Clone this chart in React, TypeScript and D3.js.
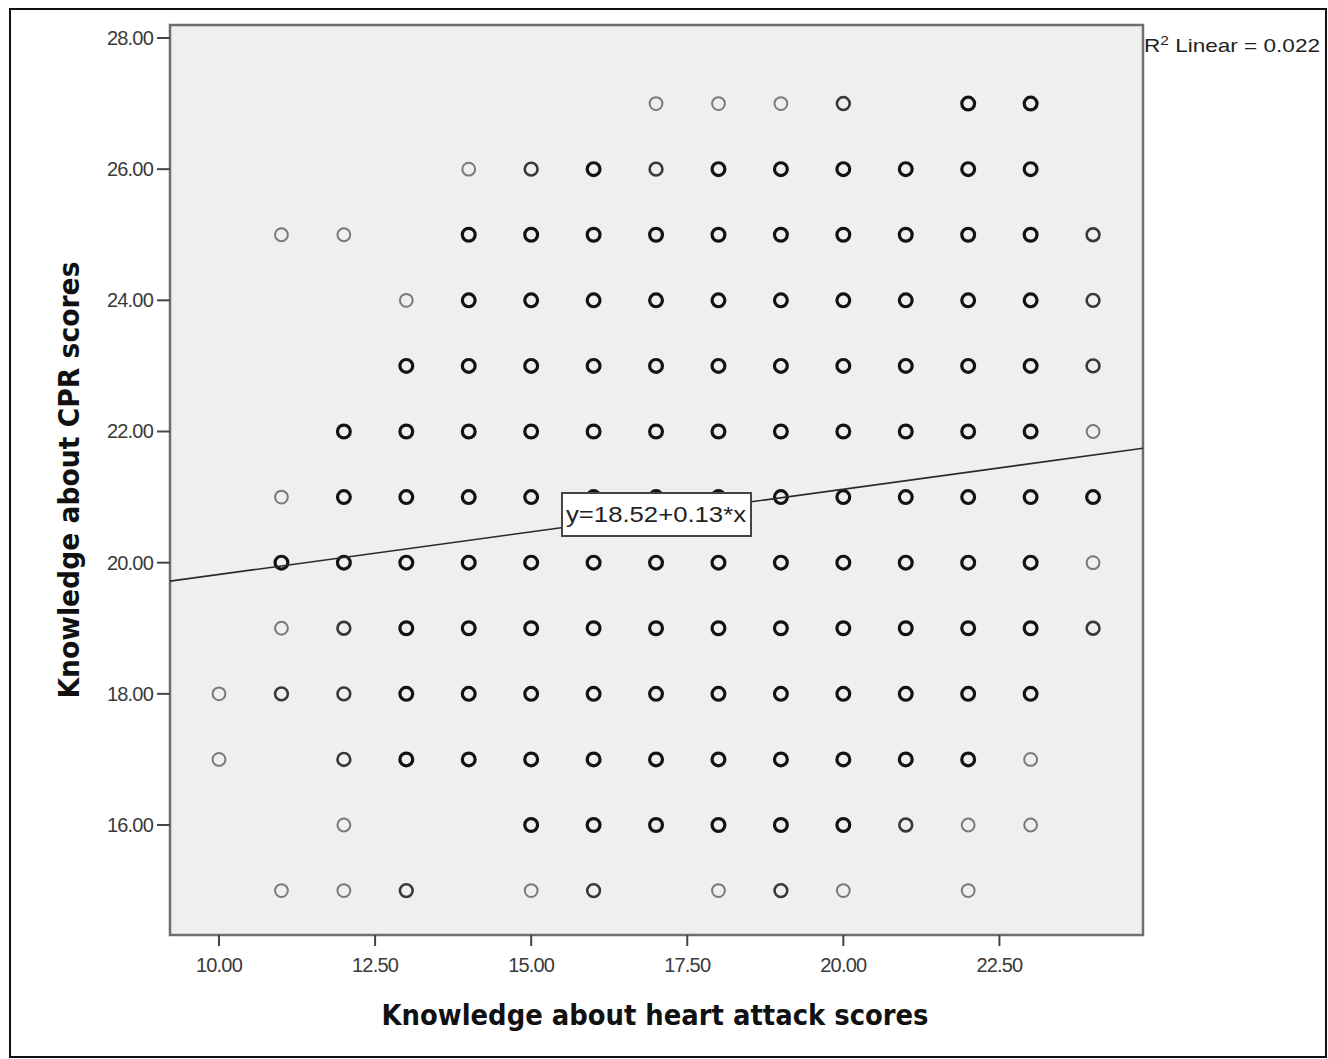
import * as d3 from 'd3';

// heart attack score, CPR score, overlap level (1 light, 2 medium, 3 dark)
const points: [number, number, number][] = [
  [17, 27, 1], [18, 27, 1], [19, 27, 1], [20, 27, 2], [22, 27, 3], [23, 27, 3],
  [14, 26, 1], [15, 26, 2], [16, 26, 3], [17, 26, 2], [18, 26, 3], [19, 26, 3], [20, 26, 3], [21, 26, 3], [22, 26, 3], [23, 26, 3],
  [11, 25, 1], [12, 25, 1], [14, 25, 3], [15, 25, 3], [16, 25, 3], [17, 25, 3], [18, 25, 3], [19, 25, 3], [20, 25, 3], [21, 25, 3], [22, 25, 3], [23, 25, 3], [24, 25, 2],
  [13, 24, 1], [14, 24, 3], [15, 24, 3], [16, 24, 3], [17, 24, 3], [18, 24, 3], [19, 24, 3], [20, 24, 3], [21, 24, 3], [22, 24, 3], [23, 24, 3], [24, 24, 2],
  [13, 23, 3], [14, 23, 3], [15, 23, 3], [16, 23, 3], [17, 23, 3], [18, 23, 3], [19, 23, 3], [20, 23, 3], [21, 23, 3], [22, 23, 3], [23, 23, 3], [24, 23, 2],
  [12, 22, 3], [13, 22, 3], [14, 22, 3], [15, 22, 3], [16, 22, 3], [17, 22, 3], [18, 22, 3], [19, 22, 3], [20, 22, 3], [21, 22, 3], [22, 22, 3], [23, 22, 3], [24, 22, 1],
  [11, 21, 1], [12, 21, 3], [13, 21, 3], [14, 21, 3], [15, 21, 3], [16, 21, 3], [17, 21, 3], [18, 21, 3], [19, 21, 3], [20, 21, 3], [21, 21, 3], [22, 21, 3], [23, 21, 3], [24, 21, 3],
  [11, 20, 3], [12, 20, 3], [13, 20, 3], [14, 20, 3], [15, 20, 3], [16, 20, 3], [17, 20, 3], [18, 20, 3], [19, 20, 3], [20, 20, 3], [21, 20, 3], [22, 20, 3], [23, 20, 3], [24, 20, 1],
  [11, 19, 1], [12, 19, 2], [13, 19, 3], [14, 19, 3], [15, 19, 3], [16, 19, 3], [17, 19, 3], [18, 19, 3], [19, 19, 3], [20, 19, 3], [21, 19, 3], [22, 19, 3], [23, 19, 3], [24, 19, 2],
  [10, 18, 1], [11, 18, 2], [12, 18, 2], [13, 18, 3], [14, 18, 3], [15, 18, 3], [16, 18, 3], [17, 18, 3], [18, 18, 3], [19, 18, 3], [20, 18, 3], [21, 18, 3], [22, 18, 3], [23, 18, 3],
  [10, 17, 1], [12, 17, 2], [13, 17, 3], [14, 17, 3], [15, 17, 3], [16, 17, 3], [17, 17, 3], [18, 17, 3], [19, 17, 3], [20, 17, 3], [21, 17, 3], [22, 17, 3], [23, 17, 1],
  [12, 16, 1], [15, 16, 3], [16, 16, 3], [17, 16, 3], [18, 16, 3], [19, 16, 3], [20, 16, 3], [21, 16, 2], [22, 16, 1], [23, 16, 1],
  [11, 15, 1], [12, 15, 1], [13, 15, 2], [15, 15, 1], [16, 15, 2], [18, 15, 1], [19, 15, 2], [20, 15, 1], [22, 15, 1],
];

const xTicks = [10, 12.5, 15, 17.5, 20, 22.5];
const yTicks = [16, 18, 20, 22, 24, 26, 28];
const intercept = 18.52;
const slope = 0.13;
const rSquared = '0.022';

const strokeFor = ['#000', '#7a7a7a', '#383838', '#121212'];
const widthFor = [0, 2, 2.6, 3.2];

export default function App() {
  const left = 170, right = 1143, top = 25, bottom = 935;
  const x = d3.scaleLinear().domain([9.215, 24.80]).range([left, right]);
  const y = d3.scaleLinear().domain([14.323, 28.198]).range([bottom, top]);

  const fitLine = d3.line<number>()
    .x(d => x(d))
    .y(d => y(intercept + slope * d));
  const ends = x.domain();

  const label = `y=${intercept.toFixed(2)}+${slope.toFixed(2)}*x`;

  return (
    <svg width={1328} height={1059} style={{ position: 'absolute', left: 0, top: 0, background: '#fff' }}
      fontFamily="'Liberation Sans', Arial, sans-serif">
      <rect x={10} y={9} width={1316} height={1048} fill="#fff" stroke="#111" strokeWidth={2} />

      <rect x={left} y={top} width={right - left} height={bottom - top} fill="#efefef" stroke="#6e6e6e" strokeWidth={2.5} />

      {/* y axis */}
      {yTicks.map(t => (
        <g key={'y' + t}>
          <line x1={left - 13} x2={left} y1={y(t)} y2={y(t)} stroke="#444" strokeWidth={2} />
          <text x={left - 17} y={y(t)} dy="0.35em" textAnchor="end" fontSize={20} fill="#3a3a3a"
            letterSpacing={-0.8}>{t.toFixed(2)}</text>
        </g>
      ))}

      {/* x axis */}
      {xTicks.map(t => (
        <g key={'x' + t}>
          <line x1={x(t)} x2={x(t)} y1={bottom} y2={bottom + 11} stroke="#444" strokeWidth={2} />
          <text x={x(t)} y={bottom + 37} textAnchor="middle" fontSize={20} fill="#3a3a3a"
            letterSpacing={-0.8}>{t.toFixed(2)}</text>
        </g>
      ))}

      <defs>
        <clipPath id="plot">
          <rect x={left} y={top} width={right - left} height={bottom - top} />
        </clipPath>
      </defs>

      <g clipPath="url(#plot)">
        {points.map(([px, py, n], i) => (
          <circle key={i} cx={x(px)} cy={y(py)} r={6.4} fill="none"
            stroke={strokeFor[n]} strokeWidth={widthFor[n]} />
        ))}
        <path d={fitLine(ends) ?? ''} fill="none" stroke="#2a2a2a" strokeWidth={1.6} />
      </g>

      <g>
        <rect x={562} y={493} width={189} height={43} fill="#fff" stroke="#444" strokeWidth={2} />
        <text x={656} y={522} textAnchor="middle" fontSize={22} fill="#222"
          textLength={180} lengthAdjust="spacingAndGlyphs">{label}</text>
      </g>

      <text x={1144} y={52} fontSize={19} fill="#222" textLength={176} lengthAdjust="spacingAndGlyphs">
        R<tspan dy={-7} fontSize={13}>2</tspan><tspan dy={7}> Linear = {rSquared}</tspan>
      </text>

      <text x={655} y={1025} textAnchor="middle" fontSize={28} fontWeight="bold" fill="#111"
        fontFamily="'DejaVu Sans', Verdana, sans-serif"
        textLength={547} lengthAdjust="spacingAndGlyphs">Knowledge about heart attack scores</text>

      <text transform="translate(79,480) rotate(-90)" textAnchor="middle" fontSize={28} fontWeight="bold" fill="#111"
        fontFamily="'DejaVu Sans', Verdana, sans-serif"
        textLength={437} lengthAdjust="spacingAndGlyphs">Knowledge about CPR scores</text>
    </svg>
  );
}
